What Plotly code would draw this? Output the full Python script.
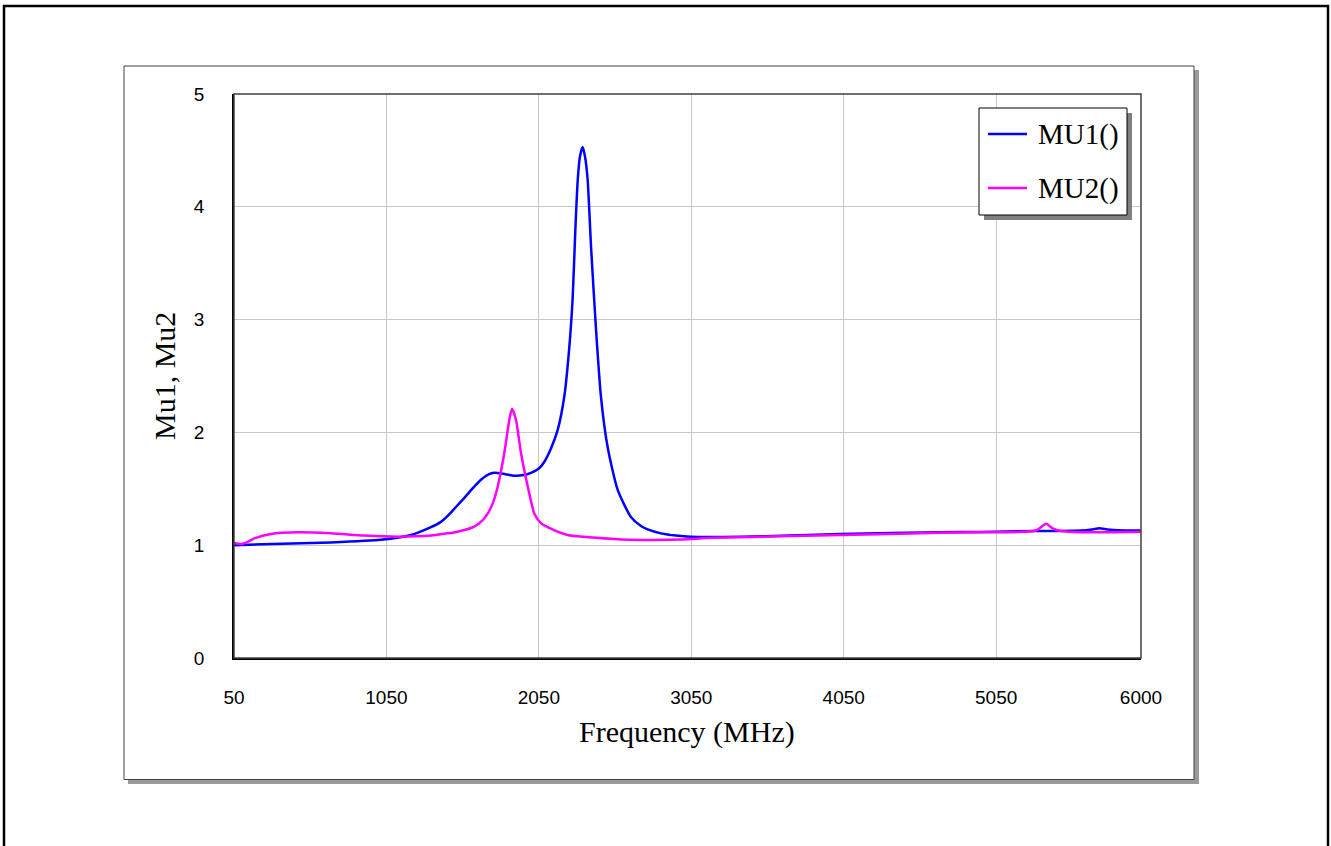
import plotly.graph_objects as go

# ---- data ----
freq_mu1 = [50, 300, 686, 1014, 1211, 1342, 1400, 1452, 1500, 1561, 1620, 1670, 1720, 1757,
            1830, 1889, 1950, 1998, 2050, 2086, 2130, 2173, 2217, 2250, 2272, 2289, 2305,
            2320, 2337, 2352, 2370, 2392, 2425, 2457, 2501, 2567, 2654, 2720, 2764, 2851,
            2950, 3048, 3376, 3700, 4032, 4688, 4950, 5300, 5606, 5680, 5727, 5780, 5850, 6000]
mu1 = [1.000, 1.010, 1.025, 1.048, 1.090, 1.160, 1.200, 1.260, 1.330, 1.420, 1.510, 1.580,
       1.628, 1.643, 1.630, 1.616, 1.622, 1.642, 1.680, 1.740, 1.860, 2.020, 2.320, 2.760,
       3.200, 3.790, 4.240, 4.450, 4.530, 4.450, 4.240, 3.650, 2.910, 2.320, 1.870, 1.490,
       1.250, 1.170, 1.140, 1.105, 1.085, 1.075, 1.075, 1.085, 1.100, 1.114, 1.118, 1.125,
       1.130, 1.140, 1.150, 1.140, 1.132, 1.130]

freq_mu2 = [50, 96, 140, 183, 293, 468, 686, 905, 1124, 1342, 1452, 1517, 1626, 1680, 1714,
            1750, 1780, 1823, 1856, 1874, 1900, 1933, 1977, 2020, 2060, 2108, 2239, 2545,
            2764, 2983, 3200, 4032, 4688, 4950, 5311, 5377, 5420, 5475, 5606, 6000]
mu2 = [1.020, 1.010, 1.030, 1.060, 1.100, 1.114, 1.105, 1.085, 1.075, 1.085, 1.105, 1.120,
       1.165, 1.220, 1.280, 1.380, 1.520, 1.815, 2.110, 2.210, 2.110, 1.815, 1.520, 1.280,
       1.200, 1.160, 1.090, 1.055, 1.046, 1.050, 1.065, 1.090, 1.110, 1.114, 1.130, 1.190,
       1.150, 1.125, 1.115, 1.120]

series_names = ["MU1()", "MU2()"]
series_colors = ["#0000ff", "#ff00ff"]
x_ticks = [50, 1050, 2050, 3050, 4050, 5050, 6000]
y_ticks = [0, 1, 2, 3, 4, 5]

W, H = 1331, 846
L, R, T, B = 234, 190, 94, 188
PW, PH = W - L - R, H - T - B
SERIF = "Liberation Serif, Times New Roman, serif"
SANS = "Liberation Sans, Arial, sans-serif"


def px(x):
    return (x - L) / PW


def py(y):
    return (H - B - y) / PH


fig = go.Figure()
fig.add_trace(go.Scatter(x=freq_mu1, y=mu1, name=series_names[0], mode="lines",
                         line=dict(color=series_colors[0], width=2.5, shape="spline", smoothing=0.6)))
fig.add_trace(go.Scatter(x=freq_mu2, y=mu2, name=series_names[1], mode="lines",
                         line=dict(color=series_colors[1], width=2.5, shape="spline", smoothing=0.6)))

shapes = [
    # outer frame
    dict(type="rect", xref="paper", yref="paper", x0=px(4), x1=px(1328), y0=py(870), y1=py(6),
         line=dict(color="black", width=2.5), fillcolor="rgba(0,0,0,0)", layer="below"),
    # panel shadow
    dict(type="rect", xref="paper", yref="paper", x0=px(128), x1=px(1199), y0=py(784), y1=py(70),
         line=dict(width=0), fillcolor="#9a9a9a", layer="below"),
    # panel
    dict(type="rect", xref="paper", yref="paper", x0=px(124), x1=px(1194), y0=py(779.5), y1=py(66),
         line=dict(color="#404040", width=1), fillcolor="white", layer="below"),
    # plot area box
    dict(type="rect", xref="paper", yref="paper", x0=0, x1=1, y0=0, y1=1,
         line=dict(color="#404040", width=1.5), fillcolor="rgba(0,0,0,0)", layer="above"),
    # legend shadow
    dict(type="rect", xref="paper", yref="paper", x0=px(984), x1=px(1132), y0=py(220), y1=py(113),
         line=dict(width=0), fillcolor="#808080", layer="above"),
    # legend box
    dict(type="rect", xref="paper", yref="paper", x0=px(979), x1=px(1127), y0=py(215), y1=py(108),
         line=dict(color="black", width=1), fillcolor="white", layer="above"),
]

annotations = [
    dict(text="Frequency (MHz)", xref="paper", yref="paper", x=px(687), y=py(732),
         xanchor="center", yanchor="middle", showarrow=False,
         font=dict(family=SERIF, size=30, color="black")),
    dict(text="Mu1, Mu2", xref="paper", yref="paper", x=px(164), y=py(376), textangle=-90,
         xanchor="center", yanchor="middle", showarrow=False,
         font=dict(family=SERIF, size=30, color="black")),
]

legend_rows = [134, 188]
for name, color, ry in zip(series_names, series_colors, legend_rows):
    shapes.append(dict(type="line", xref="paper", yref="paper", x0=px(988), x1=px(1027),
                       y0=py(ry), y1=py(ry), line=dict(color=color, width=2.5), layer="above"))
    annotations.append(dict(text=name, xref="paper", yref="paper", x=px(1036), y=py(ry),
                            xanchor="left", yanchor="middle", showarrow=False,
                            font=dict(family=SERIF, size=29, color="black")))

fig.update_layout(
    width=W, height=H,
    margin=dict(l=L, r=R, t=T, b=B, pad=0),
    paper_bgcolor="white", plot_bgcolor="rgba(0,0,0,0)",
    shapes=shapes, annotations=annotations,
    showlegend=False,
)
fig.update_xaxes(range=[50, 6000], tickmode="array", tickvals=x_ticks,
                 ticktext=[str(v) for v in x_ticks], showgrid=True, gridcolor="#c8c8c8",
                 gridwidth=1, zeroline=False, showline=True, linecolor="black", linewidth=1.5,
                 ticks="", ticklabelstandoff=21,
                 tickfont=dict(family=SANS, size=19, color="black"))
fig.update_yaxes(range=[0, 5], tickmode="array", tickvals=y_ticks, showgrid=True,
                 gridcolor="#c8c8c8", gridwidth=1, zeroline=False, showline=True,
                 linecolor="black", linewidth=1.5, ticks="", ticklabelstandoff=24,
                 tickfont=dict(family=SANS, size=19, color="black"))

fig.write_html("out.html")
